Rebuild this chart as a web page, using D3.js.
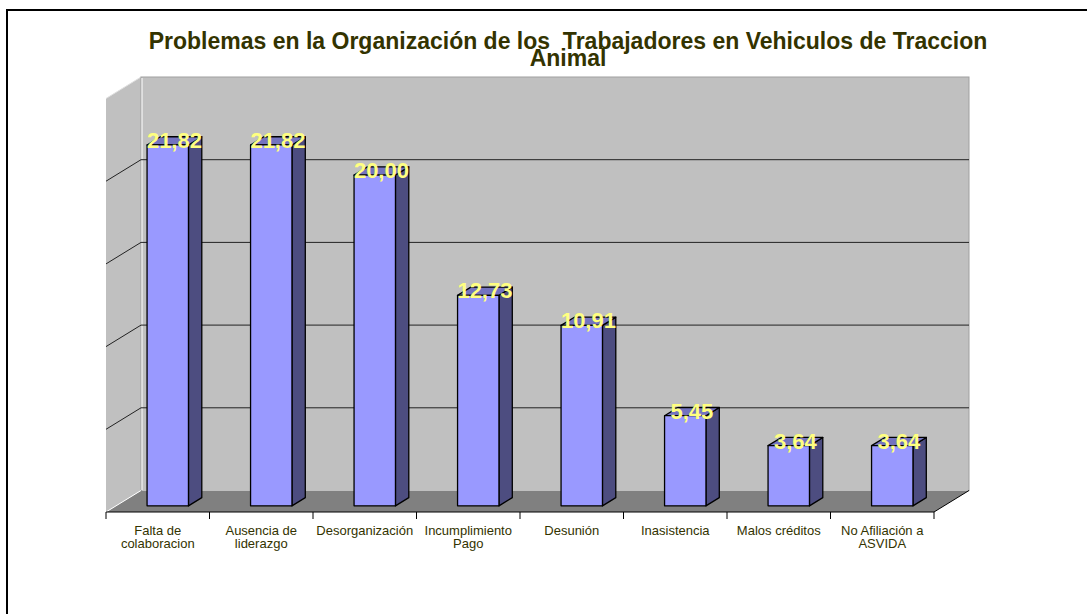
<!DOCTYPE html>
<html>
<head>
<meta charset="utf-8">
<script src="https://cdn.jsdelivr.net/npm/d3@7"></script>
<style>
  body { margin: 0; background: #fff; }
  svg { display: block; font-family: Arial, "Liberation Sans", sans-serif; }
</style>
</head>
<body>
<div id="chart"></div>
<script>
// datos del grafico
var categories = ["Falta de\ncolaboracion", "Ausencia de\nliderazgo", "Desorganización", "Incumplimiento\nPago",
                  "Desunión", "Inasistencia", "Malos créditos", "No Afiliación a\nASVIDA"];
var values = [21.82, 21.82, 20.00, 12.73, 10.91, 5.45, 3.64, 3.64];
var gridTicks = [5, 10, 15, 20];
var titleLines = ["Problemas en la Organización de los  Trabajadores en Vehiculos de Traccion", "Animal"];

var width = 1087, height = 614;
var left = 106, right = 934, floorY = 512;
var DX = 35, DY = 21.5;          // profundidad 3D
var f1 = 0.286, f2 = 0.667;      // profundidad de las barras

var fmt = d3.formatLocale({decimal: ",", thousands: ".", grouping: [3], currency: ["", ""]}).format(".2f");

var xScale = d3.scaleBand().domain(d3.range(categories.length)).range([left, right]);
var yScale = d3.scaleLinear().domain([0, 25]).range([floorY, floorY - 413.5]);

function proj(x, v, f) { return [x + f * DX, yScale(v) - f * DY]; }
function pts(a) { return a.map(function(p) { return p.join(","); }).join(" "); }

var svg = d3.select("#chart").append("svg")
        .attr("width", width)
        .attr("height", height);

// marco exterior
svg.append("rect")
        .attr("x", 7).attr("y", 10)
        .attr("width", 1200).attr("height", 800)
        .attr("fill", "none").attr("stroke", "#000").attr("stroke-width", 2);

// titulo
svg.append("text")
        .attr("text-anchor", "middle")
        .attr("fill", "#333300")
        .style("font-size", "23px").style("font-weight", "bold").style("white-space", "pre")
        .selectAll("tspan").data(titleLines).enter().append("tspan")
        .attr("x", 568)
        .attr("y", function(d, i) { return 49 + i * 17; })
        .text(function(d) { return d; });

var wallTop = yScale(25);

// pared lateral
svg.append("polygon")
        .attr("points", pts([proj(left, 25, 0), proj(left, 25, 1), proj(left, 0, 1), proj(left, 0, 0)]))
        .attr("fill", "#c0c0c0");
svg.append("line")
        .attr("x1", left).attr("y1", wallTop).attr("x2", left + DX).attr("y2", wallTop - DY)
        .attr("stroke", "#e0e0e0");

// pared de fondo
svg.append("rect")
        .attr("x", left + DX).attr("y", wallTop - DY)
        .attr("width", right - left).attr("height", yScale(0) - yScale(25))
        .attr("fill", "#c0c0c0").attr("stroke", "#a0a0a0");
svg.append("path")
        .attr("d", "M" + (left + DX + 1) + "," + (wallTop - DY + 1) + "V" + (floorY - DY) + "H" + (right + DX - 1))
        .attr("fill", "none").attr("stroke", "#fff");

// suelo
svg.append("polygon")
        .attr("points", pts([proj(left, 0, 0), proj(left, 0, 1), proj(right, 0, 1), proj(right, 0, 0)]))
        .attr("fill", "#808080");
svg.append("line")
        .attr("x1", left).attr("y1", floorY).attr("x2", left + DX).attr("y2", floorY - DY)
        .attr("stroke", "#fff");
svg.append("path")
        .attr("d", "M" + left + "," + floorY + "H" + right + "L" + (right + DX) + "," + (floorY - DY))
        .attr("fill", "none").attr("stroke", "#000");

// lineas de division
var grid = svg.append("g").attr("class", "grid");
grid.selectAll("line.back").data(gridTicks).enter().append("line")
        .attr("class", "back")
        .attr("x1", left + DX).attr("x2", right + DX)
        .attr("y1", function(d) { return yScale(d) - DY; })
        .attr("y2", function(d) { return yScale(d) - DY; })
        .attr("stroke", "#222");
grid.selectAll("line.side").data(gridTicks).enter().append("line")
        .attr("class", "side")
        .attr("x1", left).attr("x2", left + DX)
        .attr("y1", function(d) { return yScale(d); })
        .attr("y2", function(d) { return yScale(d) - DY; })
        .attr("stroke", "#222");

// marcas del eje x
var bounds = d3.range(categories.length).map(function(i) { return xScale(i); }).concat([right]);
svg.selectAll("line.tick").data(bounds).enter().append("line")
        .attr("class", "tick")
        .attr("x1", function(d) { return d; }).attr("x2", function(d) { return d; })
        .attr("y1", floorY).attr("y2", floorY + 7)
        .attr("stroke", "#000");

// barras
var bw = xScale.bandwidth() * 0.4;
var bars = svg.selectAll("g.bar").data(values).enter().append("g").attr("class", "bar");

function bx(i) { return xScale(i) + (xScale.bandwidth() - bw) / 2; }

bars.append("polygon")
        .attr("points", function(d, i) {
            return pts([proj(bx(i) + bw, 0, f1), proj(bx(i) + bw, d, f1), proj(bx(i) + bw, d, f2), proj(bx(i) + bw, 0, f2)]);
        })
        .attr("fill", "#4d4d80").attr("stroke", "#000").attr("stroke-width", 1.3).attr("stroke-linejoin", "round");
bars.append("polygon")
        .attr("points", function(d, i) {
            return pts([proj(bx(i), d, f1), proj(bx(i) + bw, d, f1), proj(bx(i) + bw, d, f2), proj(bx(i), d, f2)]);
        })
        .attr("fill", "#7373bf").attr("stroke", "#000").attr("stroke-width", 1.3).attr("stroke-linejoin", "round");
bars.append("polygon")
        .attr("points", function(d, i) {
            return pts([proj(bx(i), 0, f1), proj(bx(i), d, f1), proj(bx(i) + bw, d, f1), proj(bx(i) + bw, 0, f1)]);
        })
        .attr("fill", "#9999ff").attr("stroke", "#000").attr("stroke-width", 1.3).attr("stroke-linejoin", "round");

// etiquetas de valor
bars.append("text")
        .attr("x", function(d, i) { return bx(i) + bw / 2 + (f1 + f2) / 2 * DX; })
        .attr("y", function(d) { return yScale(d) - f1 * DY + 3; })
        .attr("text-anchor", "middle")
        .attr("fill", "#ffff80")
        .style("font-size", "22px").style("font-weight", "bold")
        .text(function(d) { return fmt(d); });

// etiquetas de categoria
svg.selectAll("text.cat").data(categories).enter().append("text")
        .attr("class", "cat")
        .attr("text-anchor", "middle")
        .attr("fill", "#333300")
        .style("font-size", "13px")
        .each(function(d, i) {
            d3.select(this).selectAll("tspan").data(d.split("\n")).enter().append("tspan")
                .attr("x", xScale(i) + xScale.bandwidth() / 2)
                .attr("y", function(t, j) { return 535 + j * 12.5; })
                .text(function(t) { return t; });
        });
</script>
</body>
</html>
